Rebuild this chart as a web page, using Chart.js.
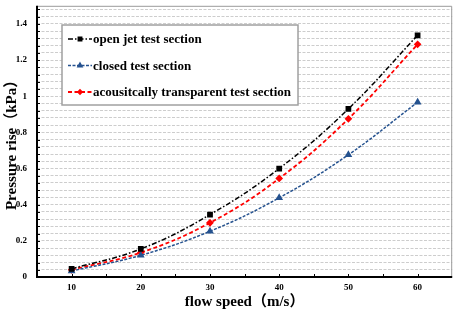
<!DOCTYPE html>
<html>
<head>
<meta charset="utf-8">
<script src="https://cdn.jsdelivr.net/npm/chart.js@4.4.1/dist/chart.umd.min.js"></script>
<style>
	html, body { margin: 0; padding: 0; background: #fff; }
	#wrap { position: relative; width: 458px; height: 315px; }
</style>
</head>
<body>
<div id="wrap"><canvas id="chart" width="458" height="315"></canvas></div>
<script>
// values
const speeds = [10, 20, 30, 40, 50, 60];
const openJet = [0.045, 0.155, 0.345, 0.6, 0.93, 1.337];
const closedSection = [0.033, 0.12, 0.253, 0.438, 0.676, 0.967];
const transparentSection = [0.04, 0.135, 0.3, 0.545, 0.875, 1.287];
const seriesNames = ["open jet test section", "closed test section", "acousitcally transparent test section"];
const xTitle = "flow speed（m/s）";
const yTitle = "Pressure rise（kPa）";

const SERIF = "'Liberation Serif', 'Times New Roman', 'Noto Sans CJK SC', serif";

const toPoints = (vals) => vals.map((v, i) => ({ x: speeds[i], y: v }));

// frame, inward ticks and the boxed legend
const decor = {
	id: "decor",
	afterDatasetsDraw(chart) {
		const { ctx, chartArea: a, scales } = chart;
		const x = scales.x, y = scales.y;
		ctx.save();
		// grey top/right frame
		ctx.strokeStyle = "#9a9a9a";
		ctx.lineWidth = 1;
		ctx.beginPath();
		ctx.moveTo(a.left, a.top + 0.5);
		ctx.lineTo(a.right - 0.5, a.top + 0.5);
		ctx.lineTo(a.right - 0.5, a.bottom);
		ctx.stroke();
		// black axes
		ctx.strokeStyle = "#000";
		ctx.lineWidth = 2;
		ctx.beginPath();
		ctx.moveTo(a.left, a.top);
		ctx.lineTo(a.left, a.bottom);
		ctx.lineTo(a.right, a.bottom);
		ctx.stroke();
		// inward tick marks
		ctx.lineWidth = 1;
		ctx.beginPath();
		for (let v = 10; v <= 60; v += 5) {
			const px = Math.round(x.getPixelForValue(v)) + 0.5;
			ctx.moveTo(px, a.bottom);
			ctx.lineTo(px, a.bottom - 3);
		}
		for (let i = 1; i * 0.04 <= 1.5; i++) {
			const py = Math.round(y.getPixelForValue(i * 0.04)) + 0.5;
			ctx.moveTo(a.left, py);
			ctx.lineTo(a.left + 3, py);
		}
		ctx.stroke();

		// legend box
		const bx = 62, by = 25, bw = 236, bh = 80;
		ctx.fillStyle = "#fff";
		ctx.fillRect(bx, by, bw, bh);
		ctx.strokeStyle = "#a0a0a0";
		ctx.lineWidth = 1.5;
		ctx.strokeRect(bx, by, bw, bh);
		ctx.font = "bold 13px " + SERIF;
		ctx.textBaseline = "middle";
		chart.data.datasets.forEach((ds, i) => {
			const cy = by + 14 + i * 26.5;
			ctx.save();
			ctx.strokeStyle = ds.borderColor;
			ctx.lineWidth = ds.borderWidth;
			ctx.setLineDash(ds.borderDash);
			ctx.beginPath();
			ctx.moveTo(68, cy);
			ctx.lineTo(92, cy);
			ctx.stroke();
			ctx.restore();
			ctx.fillStyle = ds.backgroundColor;
			ctx.strokeStyle = ds.borderColor;
			ctx.setLineDash([]);
			Chart.helpers.drawPoint(ctx, {
				pointStyle: ds.pointStyle,
				radius: ds.pointRadius * 0.8,
				borderWidth: 1,
				rotation: 0,
			}, 80, cy);
			ctx.fillStyle = "#000";
			ctx.fillText(ds.label, 93, cy + 1);
		});
		ctx.restore();
	},
};

new Chart(document.getElementById("chart"), {
	type: "line",
	data: {
		datasets: [
			{
				label: seriesNames[0],
				data: toPoints(openJet),
				borderColor: "#000000",
				backgroundColor: "#000000",
				borderWidth: 1.5,
				borderDash: [5, 2, 1.5, 2],
				pointStyle: "rect",
				pointRadius: 3,
				tension: 0.4,
			},
			{
				label: seriesNames[1],
				data: toPoints(closedSection),
				borderColor: "#25528f",
				backgroundColor: "#25528f",
				borderWidth: 1.5,
				borderDash: [3, 1.5],
				pointStyle: "triangle",
				pointRadius: 3,
				tension: 0.4,
			},
			{
				label: seriesNames[2],
				data: toPoints(transparentSection),
				borderColor: "#ff0000",
				backgroundColor: "#ff0000",
				borderWidth: 1.8,
				borderDash: [4, 2.5],
				pointStyle: "rectRot",
				pointRadius: 2.6,
				tension: 0.4,
			},
		],
	},
	options: {
		responsive: false,
		animation: false,
		layout: { padding: { top: 4, right: 4, left: 0, bottom: 0 } },
		plugins: {
			legend: { display: false },
			tooltip: { enabled: false },
		},
		scales: {
			x: {
				type: "linear",
				min: 5,
				max: 65,
				afterFit: (s) => {
					s.height = 38;
					s.paddingLeft = 0;
					s.paddingRight = 0;
				},
				grid: { display: false, drawTicks: false },
				border: { display: false },
				ticks: {
					stepSize: 5,
					autoSkip: false,
					maxRotation: 0,
					padding: 5,
					color: "#000",
					font: { family: SERIF, size: 9, weight: "bold" },
					callback: (v) => (v % 10 === 0 ? String(v) : ""),
				},
				title: {
					display: true,
					text: xTitle,
					color: "#000",
					padding: { top: 0, bottom: 4 },
					font: { family: SERIF, size: 15, weight: "bold" },
				},
			},
			y: {
				min: 0,
				max: 1.5,
				afterFit: (s) => {
					s.width = 37;
					s.paddingTop = 0;
					s.paddingBottom = 0;
				},
				grid: {
					color: "#cdcdcd",
					lineWidth: 1,
					drawTicks: false,
				},
				border: { display: false, dash: [3, 1.5] },
				ticks: {
					stepSize: 0.04,
					includeBounds: false,
					padding: 10,
					autoSkip: false,
					color: "#000",
					font: { family: SERIF, size: 9, weight: "bold" },
					callback: (v) => {
						const k = v / 0.2;
						if (Math.abs(k - Math.round(k)) > 1e-6) return "";
						return String(Math.round(k * 2) / 10);
					},
				},
				title: {
					display: true,
					text: yTitle,
					color: "#000",
					padding: { top: 3, bottom: 0 },
					font: { family: SERIF, size: 15, weight: "bold" },
				},
			},
		},
	},
	plugins: [decor],
});
</script>
</body>
</html>
